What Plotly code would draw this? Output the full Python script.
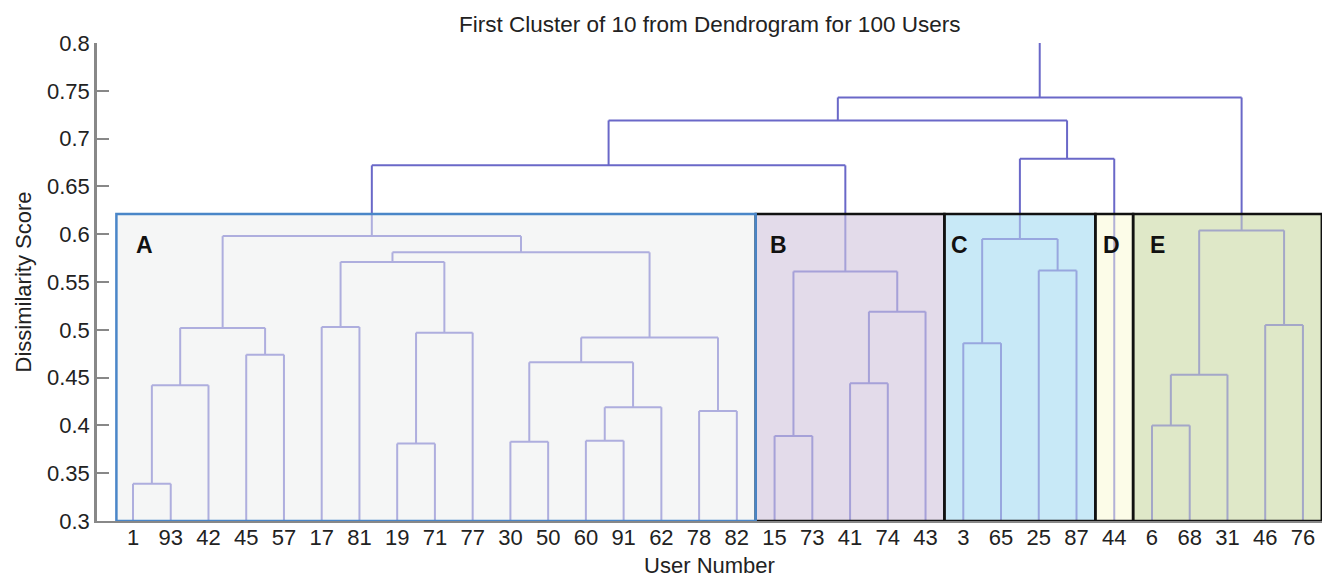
import plotly.graph_objects as go

# Leaf order along the x axis (user numbers)
users = [1, 93, 42, 45, 57, 17, 81, 19, 71, 77, 30, 50, 60, 91, 62, 78, 82,
         15, 73, 41, 74, 43,
         3, 65, 25, 87,
         44,
         6, 68, 31, 46, 76]

# Linkage: node ids < len(users) are leaves, larger ids are earlier merges
merge_left = [0, 32, 3, 33, 5, 7, 37, 36, 10, 12, 41, 40, 15, 43, 39, 35,
              17, 19, 49, 48, 47,
              22, 24, 53, 55, 52,
              27, 58, 30, 59, 57]
merge_right = [1, 2, 4, 34, 6, 8, 9, 38, 11, 13, 14, 42, 16, 44, 45, 46,
               18, 20, 21, 50, 51,
               23, 25, 54, 26, 56,
               28, 29, 31, 60, 61]
merge_height = [0.339, 0.442, 0.474, 0.502, 0.503, 0.381, 0.497, 0.571,
                0.383, 0.384, 0.419, 0.466, 0.415, 0.492, 0.581, 0.598,
                0.389, 0.444, 0.519, 0.561, 0.672,
                0.486, 0.562, 0.595, 0.679, 0.719,
                0.400, 0.453, 0.505, 0.604, 0.743]

# Highlighted clusters: label, first leaf, last leaf
cluster_names = ["A", "B", "C", "D", "E"]
cluster_first = [0, 17, 22, 26, 27]
cluster_last = [16, 21, 25, 26, 31]
cluster_cut = 0.621

Y_MIN, Y_MAX = 0.3, 0.8
LINK = "#6a68c8"

# Build the dendrogram segments, split at the cluster cut height
n = len(users)
node_x = list(range(n))
node_y = [Y_MIN] * n
segments = []
for a, b, h in zip(merge_left, merge_right, merge_height):
    xa, xb = node_x[a], node_x[b]
    segments += [((xa, node_y[a]), (xa, h)),
                 ((xa, h), (xb, h)),
                 ((xb, h), (xb, node_y[b]))]
    node_x.append((xa + xb) / 2)
    node_y.append(h)
segments.append(((node_x[-1], node_y[-1]), (node_x[-1], Y_MAX)))

lo_x, lo_y, hi_x, hi_y = [], [], [], []
for (x0, y0), (x1, y1) in segments:
    ya, yb = min(y0, y1), max(y0, y1)
    if yb <= cluster_cut:
        lo_x += [x0, x1, None]; lo_y += [y0, y1, None]
    elif ya >= cluster_cut:
        hi_x += [x0, x1, None]; hi_y += [y0, y1, None]
    else:  # vertical segment crossing the cut
        lo_x += [x0, x0, None]; lo_y += [ya, cluster_cut, None]
        hi_x += [x0, x0, None]; hi_y += [cluster_cut, yb, None]

box_fill = ["#f5f6f6", "#e3dbea", "#c8e9f7", "#fcfce8", "#dfe8c8"]
box_edge = ["#4a86c8", "#111111", "#111111", "#111111", "#111111"]
label_dx = [0.75, 0.6, 0.4, 0.42, 0.65]

shapes = []
annotations = []
for i, name in enumerate(cluster_names):
    x0 = cluster_first[i] - (0.44 if i == 0 else 0.5)
    x1 = cluster_last[i] + 0.5
    shapes.append(dict(type="rect", xref="x", yref="y", x0=x0, x1=x1,
                       y0=Y_MIN, y1=cluster_cut, layer="below",
                       fillcolor=box_fill[i], line=dict(width=0)))
outlines = []
for i, name in enumerate(cluster_names):
    x0 = cluster_first[i] - (0.44 if i == 0 else 0.5)
    x1 = cluster_last[i] + 0.5
    outlines.append(dict(type="rect", xref="x", yref="y", x0=x0, x1=x1,
                         y0=Y_MIN, y1=cluster_cut, layer="above",
                         fillcolor="rgba(0,0,0,0)",
                         line=dict(color=box_edge[i], width=2.5)))
    annotations.append(dict(x=x0 + label_dx[i], y=0.5884, xref="x", yref="y",
                            text="<b>%s</b>" % name, showarrow=False,
                            font=dict(size=23, color="#111111")))
# blue A outline last so its edge sits over the B border
shapes += outlines[1:] + outlines[:1]

fig = go.Figure()
fig.add_trace(go.Scatter(
    x=lo_x, y=lo_y, mode="lines", opacity=0.5,
    line=dict(color=LINK, width=2),
    hoverinfo="skip", showlegend=False,
))
fig.add_trace(go.Scatter(
    x=hi_x, y=hi_y, mode="lines",
    line=dict(color=LINK, width=2),
    hoverinfo="skip", showlegend=False,
))

annotations.append(dict(text="First Cluster of 10 from Dendrogram for 100 Users",
                        x=0.5, xref="paper", y=1 + (43 - 25) / 478, yref="paper",
                        yanchor="middle", showarrow=False,
                        font=dict(size=22.5, color="#222222")))

fig.update_layout(
    width=1330, height=582,
    margin=dict(l=97, r=8, t=43, b=61),
    paper_bgcolor="white", plot_bgcolor="white",
    font=dict(family="Liberation Sans, Arial, sans-serif", size=22, color="#222222"),
    shapes=shapes, annotations=annotations,
    showlegend=False,
)
fig.update_xaxes(
    range=[-0.954, 31.505], tickmode="array",
    tickvals=list(range(n)), ticktext=[str(u) for u in users],
    showgrid=False, zeroline=False, showline=True, linecolor="#888888",
    linewidth=2, ticks="", tickfont=dict(size=22), ticklabelstandoff=-4,
    title=dict(text="User Number", font=dict(size=22), standoff=8),
)
fig.update_yaxes(
    range=[Y_MIN, Y_MAX], dtick=0.05, tick0=0.3,
    showgrid=False, zeroline=False, showline=True, linecolor="#888888",
    linewidth=2.5, ticks="inside", ticklen=12, tickwidth=2, tickcolor="#888888",
    tickfont=dict(size=22),
    title=dict(text="Dissimilarity Score", font=dict(size=22), standoff=10),
)

fig.write_html("out.html")
